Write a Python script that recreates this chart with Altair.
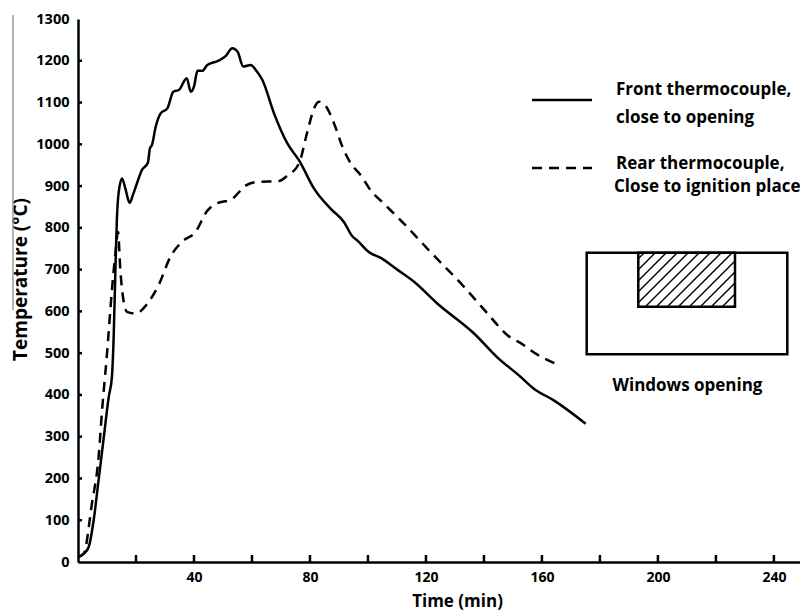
import altair as alt
import pandas as pd

# ---------------- data ----------------
front_time = [0, 2, 3.7, 5.4, 7.1, 8.9, 10.6, 11.7, 12.3, 12.9, 13.4, 14, 15.2, 16.3, 17.8,
              19, 20.3, 22, 24.1, 24.8, 25.5, 26.8, 28.5, 30.8, 32.9, 34.8, 37.5, 38.9, 40,
              41.2, 42.9, 44.6, 48.1, 50.9, 53.2, 55, 57, 59.6, 61.3, 63.6, 67.6, 72.2, 76.2,
              81.4, 87.1, 91.7, 94.6, 96.3, 100.3, 104.4, 110.1, 115.9, 123.9, 136.6, 144.6,
              152.7, 157.2, 164.1, 175.1]
front_temp = [12, 20, 36, 100, 196, 299, 395, 443, 539, 699, 818, 883, 918, 895, 860,
              880, 906, 938, 956, 990, 998, 1042, 1074, 1086, 1126, 1130, 1158, 1126, 1138,
              1176, 1176, 1190, 1199, 1211, 1230, 1222, 1186, 1190, 1178, 1154, 1074, 1002, 962,
              894, 846, 814, 780, 770, 742, 728, 700, 671, 619, 547, 490,
              443, 415, 387, 331]

rear_time = [0, 2, 4.8, 7.1, 8.3, 10, 11.7, 12.9, 13.8, 14.6, 15.5, 16.9, 19.8, 24.4, 27.8,
             31.9, 35.9, 40.5, 44.5, 47.4, 53.1, 57.8, 61.9, 69.3, 72.2, 76.2, 79.1, 81.4,
             83.1, 85.4, 88.3, 91.2, 94.1, 97.5, 100.9, 105.5, 112.4, 121.6, 133.1, 141.2,
             148.1, 153.8, 156.1, 165.9]
rear_temp = [12, 20, 140, 251, 363, 499, 651, 739, 790, 699, 635, 599, 595, 623, 663,
             731, 767, 790, 840, 857, 869, 901, 910, 912, 925, 954, 1030, 1086,
             1102, 1092, 1050, 994, 954, 926, 890, 858, 810, 742, 659, 595,
             543, 519, 507, 471]

x_tick_values = list(range(20, 241, 20))
x_label_values = list(range(40, 241, 40))
y_tick_values = list(range(100, 1201, 100))
y_label_values = list(range(0, 1301, 100))

x_title = "Time (min)"
y_title = "Temperature (°C)"
legend_front = ["Front thermocouple,", "close to opening"]
legend_rear = ["Rear thermocouple,", "Close to ignition place"]
inset_label = "Windows opening"

# ---------------- layout / style ----------------
W, H = 722, 543
FONT = "Open Sans"
LW = 2.5
DASH = [10, 7]

x_scale = alt.Scale(domain=[0, 249], nice=False, zero=False)
y_scale = alt.Scale(domain=[0, 1300], nice=False, zero=False)

x_axis = alt.Axis(values=x_label_values, format="d", ticks=False, grid=False, domainColor="black",
                  domainWidth=LW, labelFont=FONT, labelFontSize=14, labelFontWeight="bold",
                  labelColor="black", labelPadding=8, labelFlush=False, labelOverlap=False,
                  title=x_title, titleFont=FONT, titleFontSize=17, titleFontWeight="bold",
                  titleColor="black", titleX=379, titleY=44, titleBaseline="alphabetic",
                  titleAlign="center")
y_axis = alt.Axis(values=y_label_values, format="d", ticks=False, grid=False, domainColor="black",
                  domainWidth=LW, labelFont=FONT, labelFontSize=14.5, labelFontWeight="bold",
                  labelColor="black", labelPadding=9, labelOverlap=False,
                  title=y_title, titleFont=FONT, titleFontSize=19, titleFontWeight="bold",
                  titleColor="black", titleX=-58, titleY=260, titleAngle=270,
                  titleBaseline="middle", titleAlign="center")

front_df = pd.DataFrame({"time": front_time, "temp": front_temp})
rear_df = pd.DataFrame({"time": rear_time, "temp": rear_temp})

front = alt.Chart(front_df).mark_line(color="black", strokeWidth=LW, interpolate="monotone").encode(
    x=alt.X("time:Q", scale=x_scale, axis=x_axis, title=x_title),
    y=alt.Y("temp:Q", scale=y_scale, axis=y_axis, title=y_title),
)
rear = alt.Chart(rear_df).mark_line(color="black", strokeWidth=LW, strokeDash=DASH,
                                    interpolate="monotone").encode(
    x=alt.X("time:Q", scale=x_scale, axis=x_axis, title=x_title),
    y=alt.Y("temp:Q", scale=y_scale, axis=y_axis, title=y_title),
)

# inward tick marks
xt = alt.Chart(pd.DataFrame({"time": x_tick_values})).mark_rule(color="black", strokeWidth=LW).encode(
    x=alt.X("time:Q", scale=x_scale, axis=x_axis, title=x_title), y=alt.value(H), y2=alt.value(H - 7))
yt = alt.Chart(pd.DataFrame({"temp": y_tick_values})).mark_rule(color="black", strokeWidth=LW).encode(
    y=alt.Y("temp:Q", scale=y_scale, axis=y_axis, title=y_title), x=alt.value(0), x2=alt.value(4))

one = alt.Data(values=[{}])


def rule(x1, y1, x2, y2, dash=None, color="black", width=LW):
    kw = dict(color=color, strokeWidth=width)
    if dash:
        kw["strokeDash"] = dash
    return alt.Chart(one).mark_rule(**kw).encode(
        x=alt.value(x1), y=alt.value(y1), x2=alt.value(x2), y2=alt.value(y2))


def text(s, x, y, align="left", size=17):
    return alt.Chart(one).mark_text(align=align, baseline="alphabetic", font=FONT,
                                    fontSize=size, fontWeight="bold", color="black").encode(
        x=alt.value(x), y=alt.value(y), text=alt.value(s))


# legend (pixel positions relative to plot area)
legend_layers = [
    rule(454, 81, 514, 81),
    rule(454, 149, 514, 149, dash=DASH),
    text(legend_front[0], 538, 76),
    text(legend_front[1], 538, 104),
    text(legend_rear[0], 538, 150),
    text(legend_rear[1], 536, 173),
]

# inset diagram
ox0, oy0, ox1, oy1 = 508.7, 233.7, 709.3, 335.3
ix0, iy0, ix1, iy1 = 560.3, 233.7, 657.0, 287.7
inset_layers = [
    alt.Chart(one).mark_rect(fill="white", stroke="black", strokeWidth=LW).encode(
        x=alt.value(ox0), x2=alt.value(ox1), y=alt.value(oy0), y2=alt.value(oy1)),
]
hatch = []
c = ix0 + iy0 + 6
while c < ix1 + iy1:
    sx = max(ix0, c - iy1)
    ex = min(ix1, c - iy0)
    if ex - sx > 0.5:
        hatch.append(rule(sx, c - sx, ex, c - ex, width=1.4))
    c += 11
inset_layers += hatch
inset_layers.append(alt.Chart(one).mark_rect(fill=None, stroke="black", strokeWidth=LW).encode(
    x=alt.value(ix0), x2=alt.value(ix1), y=alt.value(iy0), y2=alt.value(iy1)))
inset_layers.append(text(inset_label, 609.5, 372, align="center"))

# faint grey scan line at far left of the original
artifact = rule(-65, -4, -65, 291, color="#9a9a9a", width=1.5)

chart = alt.layer(front, rear, xt, yt, *legend_layers, *inset_layers, artifact).properties(
    width=W, height=H,
    autosize=alt.AutoSizeParams(type="none"),
    padding={"left": 70, "top": 11, "right": 0, "bottom": 49},
    background="white",
).configure_view(stroke=None)

chart.save("out.html", embed_options={"renderer": "svg", "actions": False})
